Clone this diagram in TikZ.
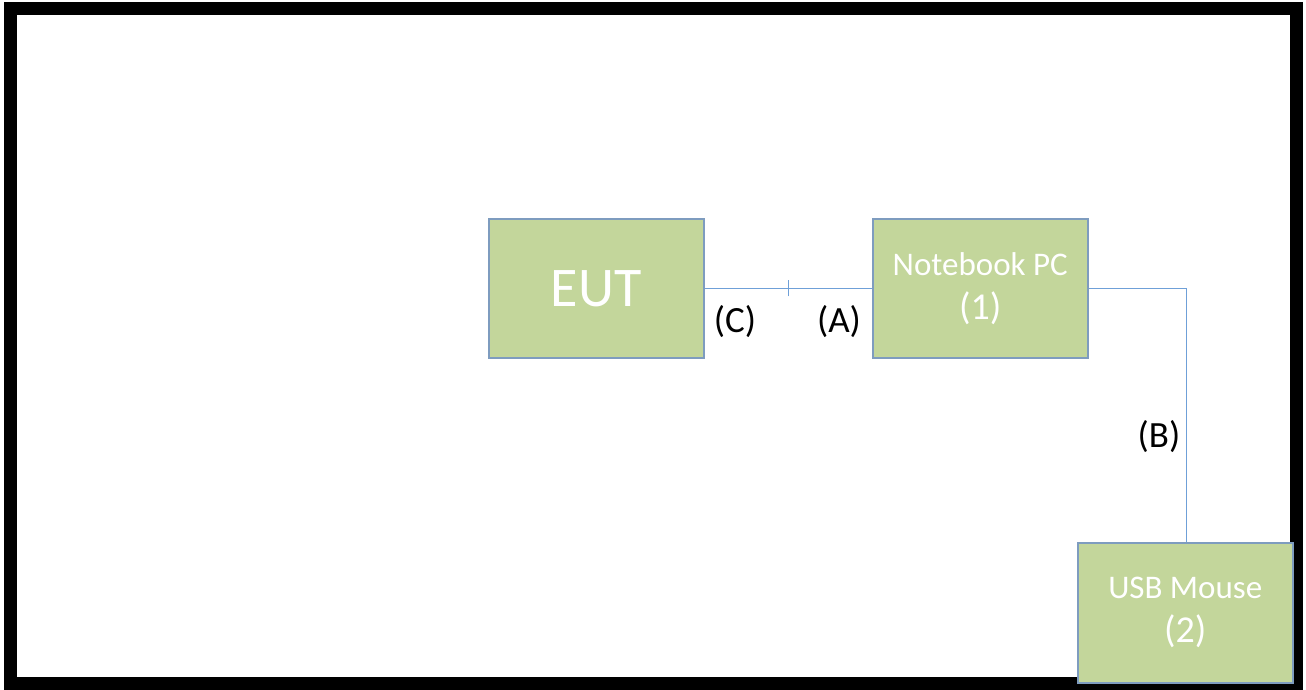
\documentclass[tikz,border=0pt]{standalone}
\usepackage{fontspec}
\setmainfont{Carlito}
\usetikzlibrary{calc}
\definecolor{boxfill}{HTML}{C3D69B}
\definecolor{boxline}{HTML}{7E9CBF}
\definecolor{wire}{HTML}{6FA0D8}
\newcommand{\bignum}[1]{{\fontsize{38}{44}\selectfont #1}}
\begin{document}
\begin{tikzpicture}[x=1pt,y=-1pt,
  unit/.style={draw=boxline,line width=1.5pt,fill=boxfill,text=white,minimum width=215pt,minimum height=139pt,inner sep=0pt,align=center,anchor=north west},
  cable/.style={draw=wire,line width=1.5pt},
  lbl/.style={font=\fontsize{37}{40}\selectfont,text=black,inner sep=0pt}]
\useasboundingbox (0,0) rectangle (1306,689);
\fill[white] (0,0) rectangle (1306,689);
\draw[line width=13pt,black] (10.5,8.5) rectangle (1296,683);
\node[unit,font=\fontsize{56}{60}\selectfont] (eut) at (488,218) {EUT};
\node[unit,font=\fontsize{33}{44}\selectfont] (pc) at (872,218) {Notebook PC\\\bignum{(1)}};
\node[unit,font=\fontsize{33}{44}\selectfont,minimum height=140pt] (mouse) at (1077,542) {USB Mouse\\\bignum{(2)}};
\coordinate (tick) at ($(eut.east)!0.5!(pc.west)$);
\draw[cable] (eut.east) -- (pc.west);
\draw[cable] ([yshift=-8pt]tick) -- ([yshift=8pt]tick);
\coordinate (bend) at ($(pc.east)+(98,0)$);
\draw[cable] (pc.east) -- (bend) -- (bend |- mouse.north);
\node[lbl] (lc) at (735,322) {(C)};
\node[lbl] (la) at (839,322) {(A)};
\node[lbl] (lb) at (1159,437) {(B)};
\end{tikzpicture}
\end{document}
